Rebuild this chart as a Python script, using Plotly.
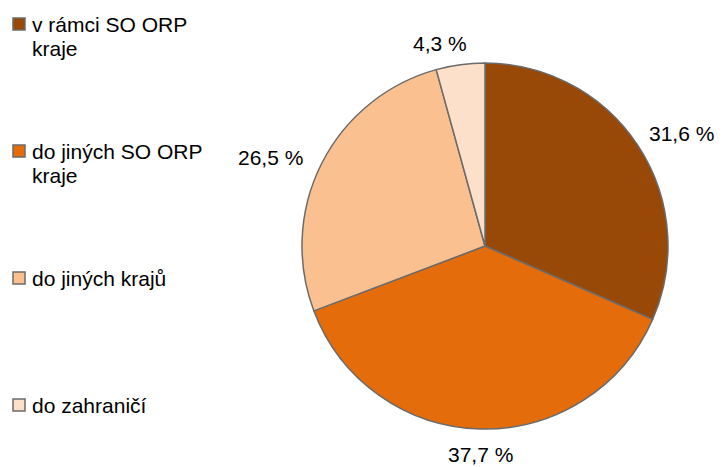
import plotly.graph_objects as go

W, H = 723, 467
OFF = 8  # page body margin
FW, FH = W - OFF, H - OFF

categories = ["v rámci SO ORP kraje", "do jiných SO ORP kraje", "do jiných krajů", "do zahraničí"]
legend_lines = [["v rámci SO ORP", "kraje"], ["do jiných SO ORP", "kraje"], ["do jiných krajů"], ["do zahraničí"]]
values = [31.6, 37.7, 26.5, 4.3]
value_labels = ["31,6 %", "37,7 %", "26,5 %", "4,3 %"]
colors = ["#984807", "#E46C0A", "#FAC090", "#FDE0CA"]

FONT = "Liberation Sans, Arial, sans-serif"
FS = 21

def px(x):
    return (x - OFF) / FW

def py(y):
    return 1 - (y - OFF) / FH

cx, cy, r = 485, 246, 183

fig = go.Figure(go.Pie(
    labels=categories,
    values=values,
    sort=False,
    direction="clockwise",
    rotation=0,
    marker=dict(colors=colors, line=dict(color="#6b6b6b", width=1.5)),
    textinfo="none",
    hoverinfo="label+percent",
    showlegend=False,
    domain=dict(x=[px(cx - r), px(cx + r)], y=[py(cy + r), py(cy - r)]),
))

# data label positions (pixel centres)
label_pos = [(681, 133), (480, 454), (270, 157), (440, 44)]
annotations = []
for (lx, ly), t in zip(label_pos, value_labels):
    annotations.append(dict(x=px(lx), y=py(ly), xref="paper", yref="paper", text=t,
                            showarrow=False, xanchor="center", yanchor="middle",
                            borderpad=0,
                            font=dict(family=FONT, size=FS, color="#000")))

# manual legend
legend_y = [24, 151, 278, 405]
shapes = []
for lines, col, ly in zip(legend_lines, colors, legend_y):
    shapes.append(dict(type="rect", xref="paper", yref="paper",
                       x0=px(13), x1=px(25), y0=py(ly + 6), y1=py(ly - 6),
                       fillcolor=col, line=dict(color="#6b6b6b", width=1.5)))
    for i, line in enumerate(lines):
        annotations.append(dict(x=px(30), y=py(ly + 24 * i), xref="paper", yref="paper",
                                text=line, showarrow=False, xanchor="left", yanchor="middle",
                                font=dict(family=FONT, size=FS, color="#000")))

fig.update_layout(
    width=FW, height=FH,
    margin=dict(l=0, r=0, t=0, b=0),
    paper_bgcolor="white", plot_bgcolor="white",
    annotations=annotations, shapes=shapes,
)

fig.write_html("out.html")
